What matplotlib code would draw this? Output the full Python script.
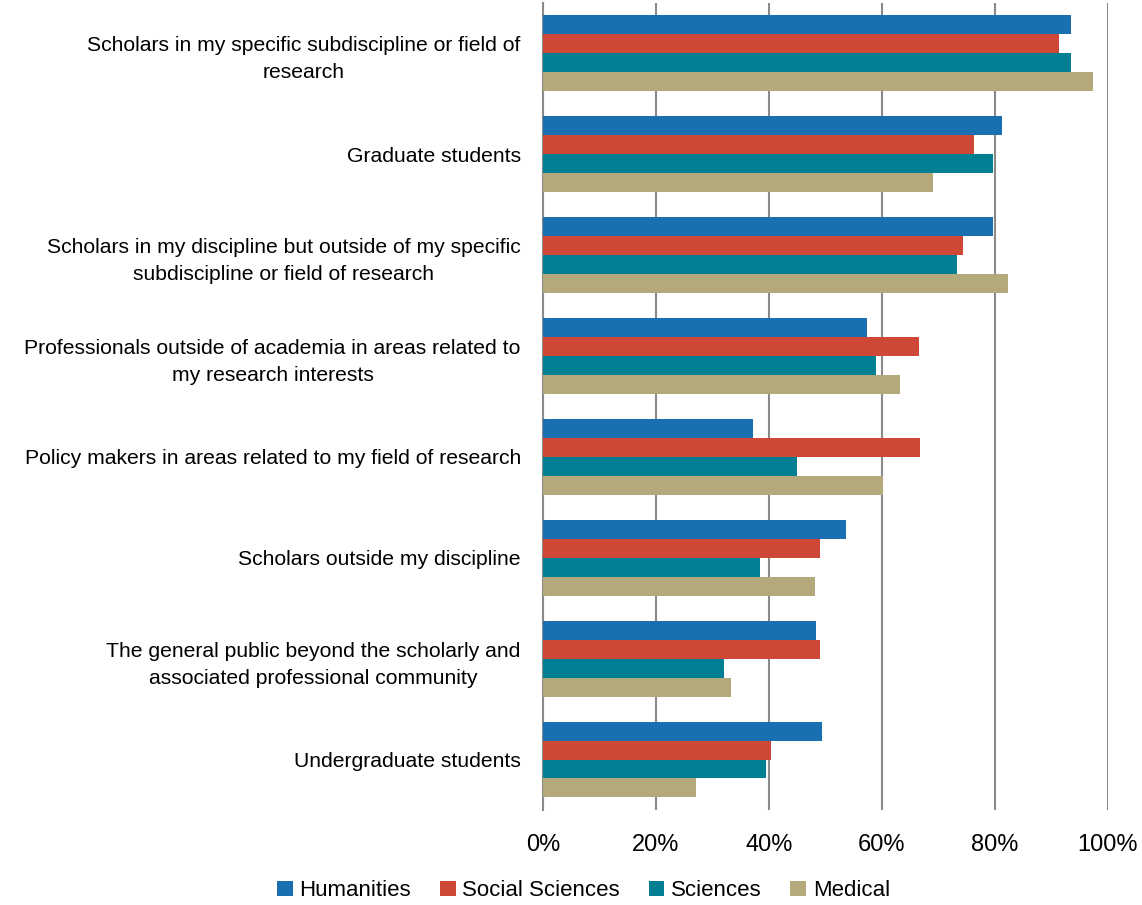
import numpy as np
import matplotlib.pyplot as plt
from matplotlib import font_manager

# data (percent)
categories = ['Scholars in my specific subdiscipline or field of\nresearch',
              'Graduate students',
              'Scholars in my discipline but outside of my specific\nsubdiscipline or field of research',
              'Professionals outside of academia in areas related to\nmy research interests',
              'Policy makers in areas related to my field of research',
              'Scholars outside my discipline',
              'The general public beyond the scholarly and\nassociated professional community',
              'Undergraduate students']
humanities = [93.4, 81.2, 79.6, 57.3, 37.2, 53.6, 48.3, 49.4]
social_sciences = [91.4, 76.3, 74.3, 66.5, 66.7, 49.0, 49.0, 40.4]
sciences = [93.4, 79.6, 73.3, 58.9, 45.0, 38.4, 32.0, 39.5]
medical = [97.3, 69.0, 82.3, 63.2, 60.2, 48.1, 33.3, 27.1]

series = ['Humanities', 'Social Sciences', 'Sciences', 'Medical']
colors = ['#1a6fb0', '#cf4736', '#037f93', '#b4a97b']

names = [f.name for f in font_manager.fontManager.ttflist]
fam = 'Liberation Sans Narrow' if 'Liberation Sans Narrow' in names else 'Liberation Sans'
plt.rcParams['font.family'] = [fam, 'DejaVu Sans']
lab_size = 17 if fam == 'Liberation Sans Narrow' else 15.2

fig = plt.figure(figsize=(11.42, 9.05), dpi=100)
ax = fig.add_axes([0.4755, 0.105, 0.4947, 0.892])

y = np.arange(len(categories))
h = 0.188
vals = [humanities, social_sciences, sciences, medical]
for i, (v, c, s) in enumerate(zip(vals, colors, series)):
    ax.barh(y - 1.5 * h + i * h, v, height=h, color=c, label=s, zorder=3)

ax.set_xlim(0, 100)
ax.set_ylim(len(categories) - 0.5, -0.5)
ax.set_xticks(np.arange(0, 101, 20))
ax.set_xticklabels([f'{t}%' for t in range(0, 101, 20)], fontsize=17)
ax.set_yticks(y)
ax.set_yticklabels(categories, fontsize=lab_size)
for lab in ax.get_yticklabels():
    lab.set_multialignment('center')
    lab.set_linespacing(1.55)
ax.tick_params(axis='both', length=0)
ax.tick_params(axis='y', pad=16)
ax.tick_params(axis='x', pad=17)
ax.grid(axis='x', color='#8a8a8a', linewidth=1.5, zorder=0)
for s in ['top', 'right', 'bottom']:
    ax.spines[s].set_visible(False)
ax.spines['left'].set_color('#8a8a8a')
ax.spines['left'].set_linewidth(1.5)

fig.legend(loc='lower center', bbox_to_anchor=(0.511, -0.018), ncol=4, frameon=False,
           fontsize=16, handlelength=0.7, handleheight=0.7, handletextpad=0.3,
           columnspacing=1.3)

plt.savefig('out.png', dpi=100)
